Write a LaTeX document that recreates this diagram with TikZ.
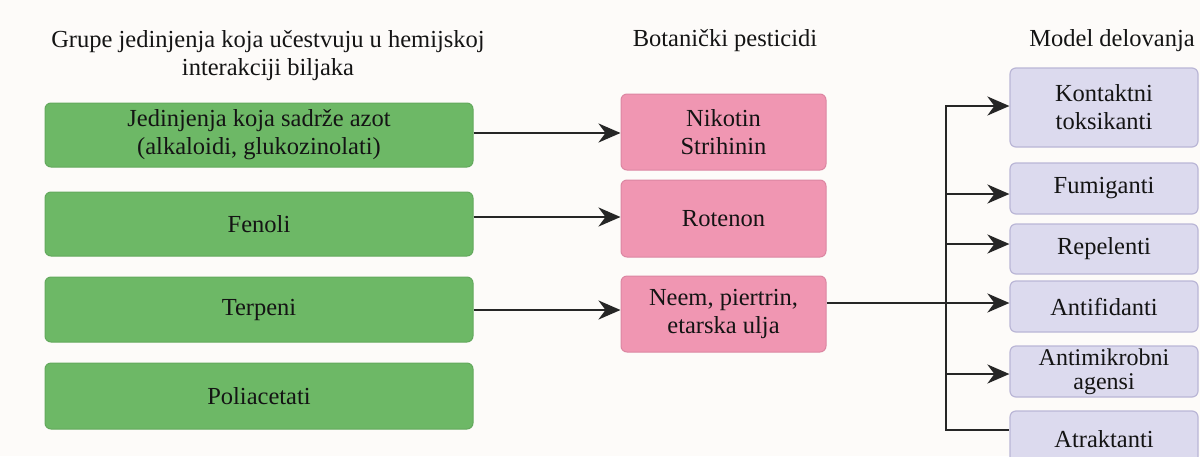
\documentclass[tikz,border=0pt]{standalone}
\usepackage{fontspec}
\setmainfont{Liberation Serif}
\usetikzlibrary{arrows.meta,calc}
\definecolor{bgc}{HTML}{FDFBF9}
\definecolor{gfill}{HTML}{6DB866}
\definecolor{gdraw}{HTML}{63A95D}
\definecolor{pfill}{HTML}{F096B2}
\definecolor{pdraw}{HTML}{DC86A2}
\definecolor{mfill}{HTML}{DCDAEE}
\definecolor{mdraw}{HTML}{BAB6D6}
\definecolor{ink}{HTML}{141414}
\definecolor{linec}{HTML}{262626}
\tikzset{
  txt/.style={font=\fontsize{24.5}{28}\selectfont, text=ink, align=center, inner sep=0pt},
  gbox/.style={txt, rectangle, rounded corners=6pt, fill=gfill, draw=gdraw, line width=1pt, minimum width=428pt},
  pbox/.style={txt, rectangle, rounded corners=6pt, fill=pfill, draw=pdraw, line width=1pt, minimum width=205pt},
  mbox/.style={txt, rectangle, rounded corners=6pt, fill=mfill, draw=mdraw, line width=1.2pt, minimum width=188pt},
  hdr/.style={txt},
  conn/.style={draw=linec, line width=2.5pt},
  arr/.style={conn, -{Stealth[length=22pt,width=19pt,inset=7pt]}}
}
\begin{document}
\begin{tikzpicture}[x=1pt,y=-1pt]
\useasboundingbox[fill=bgc] (0,0) rectangle (1200,456);

% headers
\node[hdr, anchor=base] (h1) at (268,75) {Grupe jedinjenja koja učestvuju u hemijskoj\\interakciji biljaka};
\node[hdr, anchor=base] (h2) at (725,46) {Botanički pesticidi};
\node[hdr, anchor=base] (h3) at (1112,46) {Model delovanja};

% green boxes
\node[gbox, minimum height=64pt] (g1) at (259,135) {Jedinjenja koja sadrže azot\\(alkaloidi, glukozinolati)};
\node[gbox, minimum height=64pt] (g2) at (259,224) {Fenoli};
\node[gbox, minimum height=65pt] (g3) at (259,309.5) {Terpeni};
\node[gbox, minimum height=66pt] (g4) at (259,396) {Poliacetati};

% pink boxes
\node[pbox, minimum height=76pt] (p1) at (723.5,132) {Nikotin\\Strihinin};
\node[pbox, minimum height=77pt] (p2) at (723.5,218.5) {Rotenon};
\node[pbox, minimum height=76pt] (p3) at (723.5,314) {Neem, piertrin,\\etarska ulja};

% purple boxes
\node[mbox, minimum height=79pt] (m1) at (1104,107.5) {Kontaktni\\toksikanti};
\node[mbox, minimum height=51pt] (m2) at (1104,188.5) {Fumiganti};
\node[mbox, minimum height=50pt] (m3) at (1104,249) {Repelenti};
\node[mbox, minimum height=51pt] (m4) at (1104,306.5) {Antifidanti};
\node[mbox, minimum height=51pt, font=\fontsize{24}{24}\selectfont] (m5) at (1104,371.5) {Antimikrobni\\agensi};
\node[mbox, minimum height=56pt] (m6) at (1104,439) {Atraktanti};

% arrows green -> pink
\coordinate (a1) at (473,133);
\coordinate (a2) at (473,217);
\coordinate (a3) at (473,310);
\draw[arr] (g1.east |- a1) -- (a1 -| p1.west);
\draw[arr] (g2.east |- a2) -- (a2 -| p2.west);
\draw[arr] (g3.east |- a3) -- (a3 -| p3.west);

% trunk
\coordinate (t1) at (946,106);
\coordinate (t2) at (946,194);
\coordinate (t3) at (946,244);
\coordinate (t4) at (946,303);
\coordinate (t5) at (946,374);
\coordinate (t6) at (946,430);
\draw[conn] (p3.east |- t4) -- (t4);
\draw[conn, line cap=rect] (t1) -- (t6);
\draw[arr] (t1) -- (t1 -| m1.west);
\draw[arr] (t2) -- (t2 -| m2.west);
\draw[arr] (t3) -- (t3 -| m3.west);
\draw[arr] (t4) -- (t4 -| m4.west);
\draw[arr] (t5) -- (t5 -| m5.west);
\draw[conn] (t6) -- (t6 -| m6.west);
\end{tikzpicture}
\end{document}
